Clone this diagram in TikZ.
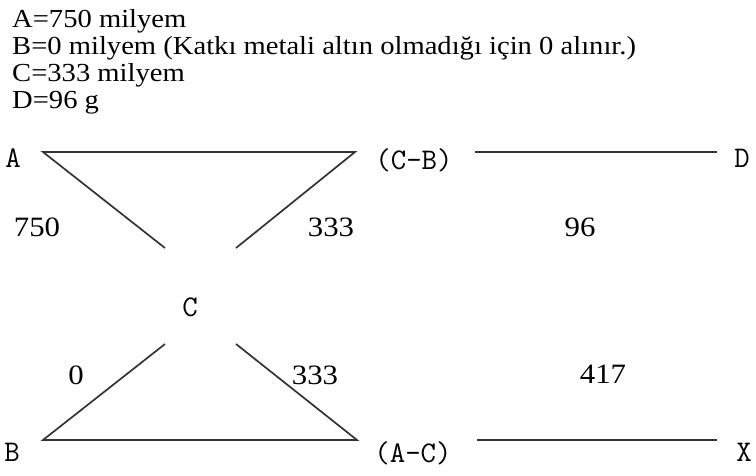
\documentclass[tikz,border=0pt]{standalone}
\usepackage{fontspec}
\setmainfont{Liberation Serif}[FakeStretch=1.1]
\newfontfamily\crfont{Latin Modern Mono}
\usetikzlibrary{positioning}
\tikzset{
  notetxt/.style={inner sep=0pt,anchor=base west,font=\fontsize{26}{27}\selectfont},
  numtxt/.style={inner sep=0pt,font=\fontsize{28}{28}\selectfont},
  corner/.style={inner sep=0pt,font=\crfont\fontsize{30}{30}\selectfont},
  bar/.style={line width=1.7pt,draw=black!80}
}
\begin{document}
\begin{tikzpicture}[x=1pt,y=-1pt]
\useasboundingbox (0,0) rectangle (756,475);
% data lines
\node[notetxt] (lineA) at (12,27) {A=750 milyem};
\node[notetxt] (lineB) at (12,54) {B=0 milyem (Katkı metali altın olmadığı için 0 alınır.)};
\node[notetxt] (lineC) at (12,81) {C=333 milyem};
\node[notetxt] (lineD) at (12,108) {D=96 g};
% corner letters
\node[corner] (A) at (13,158) {A};
\node[corner] (CB) at (414,160) {(C-B)};
\node[corner] (D) at (742,158) {D};
\node[corner] (C) at (190,307) {C};
\node[corner] (B) at (12,452) {B};
\node[corner] (AC) at (413,453) {(A-C)};
\node[corner] (X) at (744,452) {X};
% values
\node[numtxt] (vA) at (37,227) {750};
\node[numtxt] (vCB) at (331,227) {333};
\node[numtxt] (vD) at (580,227) {96};
\node[numtxt] (vB) at (76,375) {0};
\node[numtxt] (vAC) at (315,375) {333};
\node[numtxt] (vX) at (603,374) {417};
% line ends
\coordinate (tl) at (43,152);
\coordinate (tm) at (355,152);
\coordinate (tr1) at (475,152);
\coordinate (tr2) at (717,152);
\coordinate (bl) at (43,440);
\coordinate (bm) at (357,440);
\coordinate (br1) at (477,440);
\coordinate (br2) at (717,440);
\coordinate (c1) at (165,248);
\coordinate (c2) at (236,248);
\coordinate (c3) at (165,344);
\coordinate (c4) at (236,344);
\draw[bar] (c1) -- (tl) -- (tm) -- (c2);
\draw[bar] (c3) -- (bl) -- (bm) -- (c4);
\draw[bar] (tr1) -- (tr2);
\draw[bar] (br1) -- (br2);
\end{tikzpicture}
\end{document}
